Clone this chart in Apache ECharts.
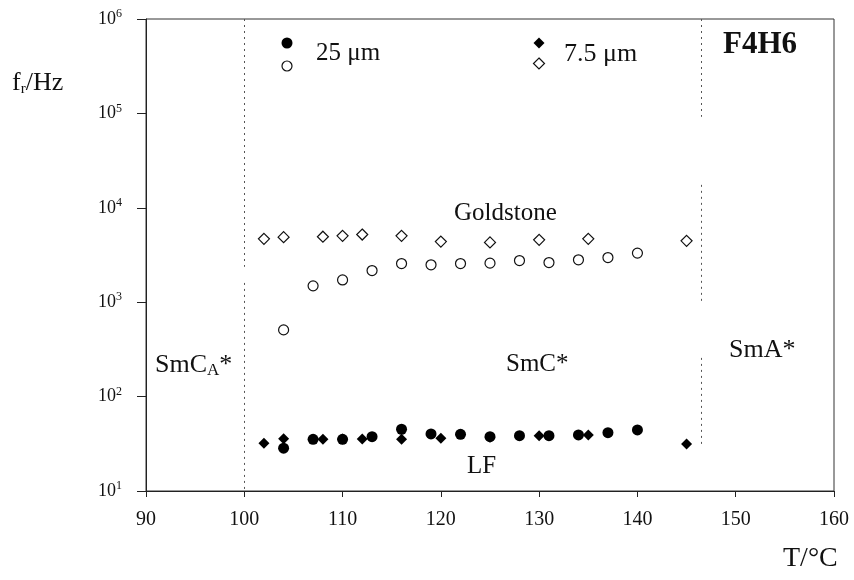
<!DOCTYPE html>
<html>
<head>
<meta charset="utf-8">
<script src="https://cdn.jsdelivr.net/npm/echarts@6/dist/echarts.min.js"></script>
<style>
  html, body { margin: 0; padding: 0; background: #fff; }
  #chart { width: 854px; height: 580px; }
</style>
</head>
<body>
<div id="chart"></div>
<script>
// 25 um cell, LF mode (filled circles)
var tLF25 = [104, 107, 110, 113, 116, 119, 122, 125, 128, 131, 134, 137, 140];
var fLF25 = [28.4, 35.3, 35.3, 37.6, 45.1, 40.2, 39.9, 37.6, 38.5, 38.5, 39.3, 41.5, 44.3];
// 25 um cell, Goldstone mode (open circles)
var tGS25 = [104, 107, 110, 113, 116, 119, 122, 125, 128, 131, 134, 137, 140];
var fGS25 = [509, 1490, 1722, 2163, 2567, 2489, 2567, 2593, 2763, 2631, 2812, 2973, 3311];
// 7.5 um cell, LF mode (filled diamonds)
var tLF75 = [102, 104, 108, 110, 112, 116, 120, 125, 130, 135, 145];
var fLF75 = [32, 35.8, 35.3, 35.5, 35.5, 35.3, 36.2, 37, 38.5, 39.3, 31.5];
// 7.5 um cell, Goldstone mode (open diamonds)
var tGS75 = [102, 104, 108, 110, 112, 116, 120, 125, 130, 135, 145];
var fGS75 = [4690, 4890, 4940, 5050, 5210, 5050, 4390, 4300, 4580, 4690, 4465];

// phase boundaries (dotted lines, drawn in pieces)
var boundLeft = [[1e6, 2370], [1600, 10]];          // at 100 C
var boundRight = [[1e6, 92000], [17500, 1010], [257, 29]]; // at 146.5 C
var tLeft = 100, tRight = 146.5;

var serif = "'Liberation Serif', 'Times New Roman', serif";

function pairs(xs, ys) {
  return xs.map(function (x, i) { return [x, ys[i]]; });
}
function segs(t, list) {
  return list.map(function (s) {
    return [{ coord: [t, s[0]] }, { coord: [t, s[1]] }];
  });
}

var chart = echarts.init(document.getElementById('chart'));
chart.setOption({
  animation: false,
  backgroundColor: '#fff',
  grid: {
    left: 146, right: 20, top: 19, bottom: 89,
    show: true, borderColor: '#333', borderWidth: 1
  },
  xAxis: {
    type: 'value', min: 90, max: 160, interval: 10,
    axisLine: { lineStyle: { color: '#222' } },
    axisTick: { inside: false, length: 6, lineStyle: { color: '#222' } },
    axisLabel: { color: '#111', fontFamily: serif, fontSize: 20, margin: 19 },
    splitLine: { show: false }
  },
  yAxis: {
    type: 'log', logBase: 10, min: 10, max: 1e6,
    axisLine: { show: true, lineStyle: { color: '#222' } },
    axisTick: { inside: false, length: 9, lineStyle: { color: '#222' } },
    minorTick: { show: false },
    axisLabel: {
      color: '#111', fontFamily: serif, fontSize: 18, margin: 24,
      formatter: function (v) {
        return '10{sup|' + Math.round(Math.log10(v)) + '}';
      },
      rich: { sup: { fontSize: 12, fontFamily: serif, color: '#111', verticalAlign: 'top', padding: [0, 0, 10, 0] } }
    },
    splitLine: { show: false }
  },
  series: [
    {
      name: 'bounds', type: 'line', data: [], silent: true,
      markLine: {
        symbol: 'none', silent: true, label: { show: false },
        lineStyle: { color: '#555', type: [2, 4], width: 1 },
        data: segs(tLeft, boundLeft).concat(segs(tRight, boundRight))
      }
    },
    {
      name: '7.5 um GS', type: 'scatter', data: pairs(tGS75, fGS75),
      symbol: 'diamond', symbolSize: [11, 11],
      itemStyle: { color: '#fff', borderColor: '#111', borderWidth: 1.2, opacity: 1 }
    },
    {
      name: '25 um GS', type: 'scatter', data: pairs(tGS25, fGS25),
      symbol: 'circle', symbolSize: 10,
      itemStyle: { color: '#fff', borderColor: '#111', borderWidth: 1.2, opacity: 1 }
    },
    {
      name: '7.5 um LF', type: 'scatter', data: pairs(tLF75, fLF75),
      symbol: 'diamond', symbolSize: [11, 11],
      itemStyle: { color: '#000', opacity: 1 }
    },
    {
      name: '25 um LF', type: 'scatter', data: pairs(tLF25, fLF25),
      symbol: 'circle', symbolSize: 11,
      itemStyle: { color: '#000', opacity: 1 }
    }
  ],
  graphic: [
    // legend keys
    { type: 'circle', shape: { cx: 287, cy: 43, r: 5.5 }, style: { fill: '#000' } },
    { type: 'circle', shape: { cx: 287, cy: 66, r: 5 }, style: { fill: '#fff', stroke: '#111', lineWidth: 1.2 } },
    { type: 'polygon', shape: { points: [[539, 37.5], [544.5, 43], [539, 48.5], [533.5, 43]] }, style: { fill: '#000' } },
    { type: 'polygon', shape: { points: [[539, 58], [544.5, 63.5], [539, 69], [533.5, 63.5]] }, style: { fill: '#fff', stroke: '#111', lineWidth: 1.2 } },
    { type: 'text', left: 316, top: 41, style: { text: '25 μm', font: '25px ' + serif, fill: '#111' } },
    { type: 'text', left: 564, top: 41, style: { text: '7.5 μm', font: '26px ' + serif, fill: '#111' } },
    { type: 'text', left: 723, top: 29, style: { text: 'F4H6', font: 'bold 31px ' + serif, fill: '#111' } },
    // axis names
    {
      type: 'text', left: 12, top: 70,
      style: {
        text: 'f{sub|r}/Hz', font: '26px ' + serif, fill: '#111',
        rich: { sub: { fontSize: 15, fontFamily: serif, fill: '#111', padding: [12, 0, 0, 0] } }
      }
    },
    { type: 'text', left: 783, top: 545, style: { text: 'T/°C', font: '28px ' + serif, fill: '#111' } },
    // annotations
    { type: 'text', left: 454, top: 201, style: { text: 'Goldstone', font: '25px ' + serif, fill: '#111' } },
    { type: 'text', left: 467, top: 454, style: { text: 'LF', font: '25px ' + serif, fill: '#111' } },
    { type: 'text', left: 506, top: 352, style: { text: 'SmC*', font: '25px ' + serif, fill: '#111' } },
    { type: 'text', left: 729, top: 337, style: { text: 'SmA*', font: '26px ' + serif, fill: '#111' } },
    {
      type: 'text', left: 155, top: 352,
      style: {
        text: 'SmC{sub|A}*', font: '26px ' + serif, fill: '#111',
        rich: { sub: { fontSize: 17, fontFamily: serif, fill: '#111', padding: [12, 0, 0, 0] } }
      }
    }
  ]
});
</script>
</body>
</html>
